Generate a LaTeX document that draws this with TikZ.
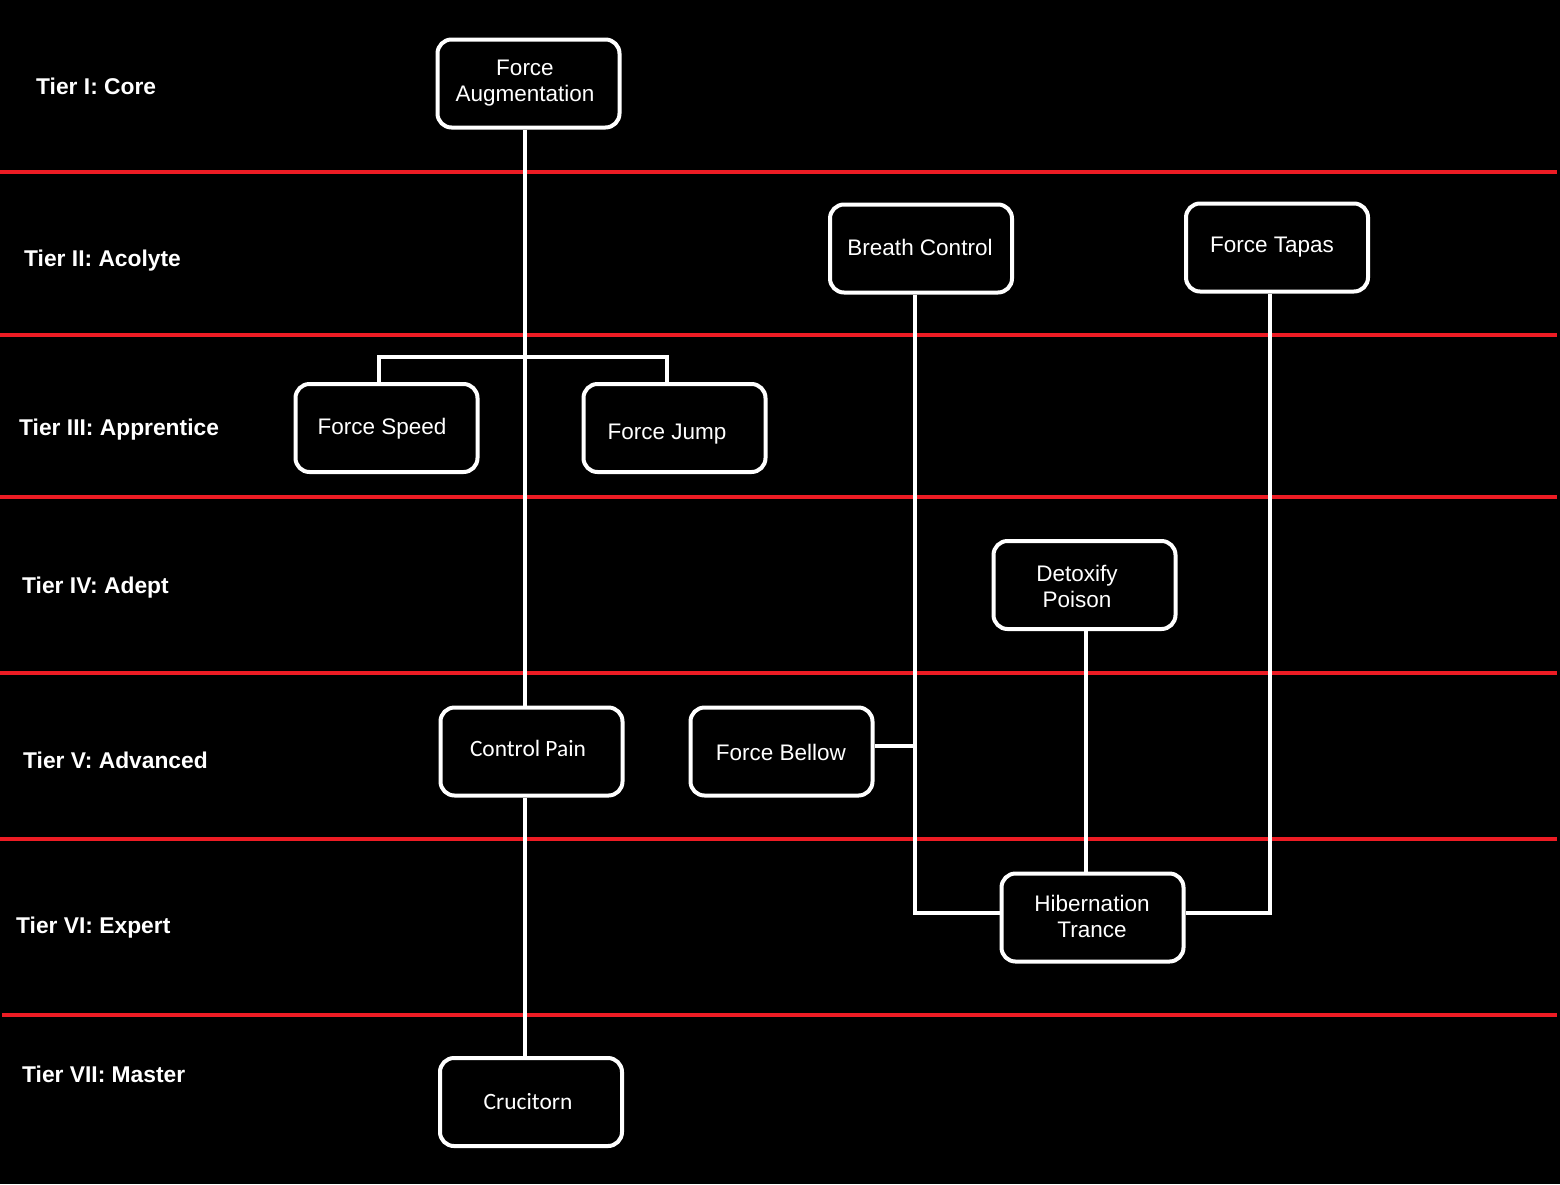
\documentclass[tikz,border=0pt]{standalone}
\usepackage{fontspec}
\setmainfont{Liberation Sans}
\newfontfamily\carlito{Carlito}
\definecolor{tierred}{HTML}{ED1C24}
\begin{document}
\begin{tikzpicture}[x=1pt,y=-1pt,
  skillbox/.style={draw=white, line width=4pt, rounded corners=14pt, fill=black,
    minimum width=182pt, minimum height=88pt, inner sep=0pt},
  skilltxt/.style={text=white, font=\fontsize{22.5}{26}\selectfont, align=center, inner sep=0pt},
  skillcal/.style={text=white, font=\carlito\fontsize{23.4}{27}\selectfont, inner sep=0pt},
  tiertxt/.style={text=white, font=\bfseries\fontsize{22.8}{26}\selectfont, anchor=base west, inner sep=0pt},
  tierline/.style={draw=tierred, line width=4pt},
  conn/.style={draw=white, line width=4pt, line join=miter}]
\useasboundingbox (0,0) rectangle (1560,1184);
\fill[black] (0,0) rectangle (1560,1184);

% tier separators
\foreach \yy in {171.5,335,497,673,839}{\draw[tierline] (0,\yy) -- (1557,\yy);}
\draw[tierline] (2,1015) -- (1557,1015);

% tier labels
\node[tiertxt] (t1) at (36,94) {Tier I: Core};
\node[tiertxt] (t2) at (24,266) {Tier II: Acolyte};
\node[tiertxt] (t3) at (19,435) {Tier III: Apprentice};
\node[tiertxt] (t4) at (22,593) {Tier IV: Adept};
\node[tiertxt] (t5) at (23,768) {Tier V: Advanced};
\node[tiertxt] (t6) at (16,933) {Tier VI: Expert};
\node[tiertxt] (t7) at (22,1082) {Tier VII: Master};

% boxes
\node[skillbox] (fa) at (528.5,83.5) {};
\node[skillbox] (bc) at (921,248.5) {};
\node[skillbox] (ft) at (1277,247.5) {};
\node[skillbox] (fs) at (386.5,428) {};
\node[skillbox] (fj) at (674.5,428) {};
\node[skillbox] (dp) at (1084.5,585) {};
\node[skillbox] (cp) at (531.5,751.5) {};
\node[skillbox] (fb) at (781.5,751.5) {};
\node[skillbox] (ht) at (1092.5,917.5) {};
\node[skillbox] (cr) at (531,1102) {};

% connector columns
\coordinate (spx) at (525,0);
\coordinate (fsx) at (379,0);
\coordinate (fjx) at (667,0);
\coordinate (br) at (525,357);
\coordinate (bcx) at (915,0);
\coordinate (ftx) at (1270,0);
\coordinate (dpx) at (1086,0);

% connectors
\draw[conn] (fa.south -| spx) -- (cp.north -| spx);
\draw[conn] (cp.south -| spx) -- (cr.north -| spx);
\draw[conn] (fs.north -| fsx) |- (br) -| (fj.north -| fjx);
\draw[conn] (bc.south -| bcx) |- ([yshift=4.5pt]ht.west);
\draw[conn] (ft.south -| ftx) |- ([yshift=4.5pt]ht.east);
\draw[conn] ([yshift=5.5pt]fb.east) -- ([yshift=5.5pt]fb.east -| bcx);
\draw[conn] (dp.south -| dpx) -- (ht.north -| dpx);

% texts
\node[skilltxt] (fat) at (525,83) {Force\\Augmentation};
\node[skilltxt, anchor=base] (bct) at (920,255) {Breath Control};
\node[skilltxt, anchor=base] (ftt) at (1272,252) {Force Tapas};
\node[skilltxt, anchor=base] (fst) at (382,434) {Force Speed};
\node[skilltxt, anchor=base] (fjt) at (667,439) {Force Jump};
\node[skilltxt] (dpt) at (1077,586) {Detoxify\\Poison};
\node[skillcal, anchor=base] (cpt) at (528,756.5) {Control Pain};
\node[skilltxt, anchor=base] (fbt) at (781,760) {Force Bellow};
\node[skilltxt] (htt) at (1092,916) {Hibernation\\Trance};
\node[skillcal, anchor=base] (crt) at (528,1109) {Crucitorn};
\end{tikzpicture}
\end{document}
